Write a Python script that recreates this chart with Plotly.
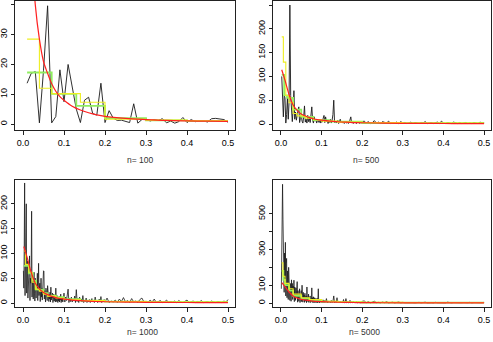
import numpy as np
import plotly.graph_objects as go

# periodogram ordinates (black lines)
pgram_100 = [13.7, 17, 17.6, 0.4, 18, 39.7, 0.4, 2.5, 18.2, 7.5,
             20, 12.5, 5, 0.5, 8, 9, 3.5, 3, 13.7, 0.5,
             4.5, 2, 1.2, 1.3, 1, 0.5, 6.8, 0.3, 1.5, 1.8,
             1, 1.5, 1.2, 1.8, 0.4, 1, 0.3, 0.8, 2.2, 0.5,
             1.5, 0.8, 1, 1, 0.7, 1.8, 1.9, 1.8, 1.5, 0.6]

# n=500: step 0.002 up to 0.2, then step 0.005 up to 0.5
pgram_500_low = [100, 40, 15, 60, 55, 2, 20, 55, 10, 45,
                 250, 60, 20, 5, 30, 70, 10, 25, 8, 15,
                 28, 36, 3, 12, 20, 6, 2, 15, 38, 4,
                 10, 2, 18, 5, 12, 3, 20, 36, 8, 2,
                 15, 6, 10, 2, 8, 5, 3, 10, 2, 6,
                 4, 12, 18, 3, 15, 5, 8, 1, 6, 3,
                 10, 2, 8, 20, 50, 3, 6, 2, 5, 8,
                 1, 4, 10, 3, 6, 2, 4, 1, 5, 3,
                 2, 6, 1, 3, 8, 15, 2, 4, 1, 3,
                 5, 2, 1, 4, 2, 6, 1, 3, 2, 5]
pgram_500_tail = [6, 2, 5, 1, 3, 7, 2, 4, 1, 5, 3, 2, 6, 1, 3, 2, 4, 1, 5, 2,
                  3, 1, 2, 4, 1, 3, 2, 1, 3, 2, 5, 1, 2, 3, 1, 2, 4, 1, 6, 2,
                  1, 3, 2, 1, 4, 2, 1, 3, 1, 2, 3, 1, 2, 1, 3, 2, 1, 4, 2, 3]

# n=1000 / n=5000: step 0.001 up to 0.1, step 0.002 up to 0.2, step 0.005 up to 0.5
pgram_1000_low = [65, 30, 110, 242, 15, 60, 90, 200, 20, 45,
                  85, 10, 60, 30, 75, 95, 5, 50, 40, 70,
                  185, 12, 55, 35, 8, 48, 62, 20, 4, 50,
                  30, 10, 45, 25, 60, 5, 35, 80, 15, 28,
                  40, 3, 22, 50, 12, 30, 6, 38, 18, 65,
                  64, 8, 25, 15, 2, 30, 10, 20, 5, 35,
                  12, 25, 3, 18, 8, 22, 2, 32, 6, 15,
                  10, 20, 1, 12, 18, 4, 9, 14, 2, 30,
                  8, 3, 15, 6, 1, 12, 4, 10, 2, 14,
                  6, 18, 1, 9, 4, 12, 2, 8, 5, 20]
pgram_1000_mid = [2, 12, 5, 15, 28, 1, 10, 3, 12, 2,
                  8, 4, 14, 1, 27, 3, 9, 1, 12, 4,
                  8, 2, 15, 1, 6, 3, 10, 1, 5, 2,
                  7, 1, 4, 9, 2, 5, 1, 12, 3, 6,
                  1, 4, 8, 2, 13, 1, 5, 3, 7, 2]
pgram_1000_tail = [10, 1, 4, 2, 6, 1, 8, 3, 11, 2, 5, 1, 9, 2, 4, 1, 7, 10, 2, 3,
                   1, 6, 2, 8, 1, 3, 5, 1, 2, 6, 1, 3, 2, 4, 1, 5, 2, 1, 3, 6,
                   1, 2, 4, 1, 3, 2, 5, 1, 2, 3, 1, 4, 2, 1, 3, 2, 1, 4, 2, 7]

pgram_5000_low = [80, 310, 150, 665, 470, 120, 400, 60, 280, 110,
                  340, 40, 220, 250, 30, 180, 90, 20, 200, 70,
                  150, 15, 110, 90, 10, 130, 60, 110, 20, 95,
                  40, 128, 8, 90, 60, 15, 85, 30, 70, 120,
                  5, 70, 45, 10, 60, 80, 3, 50, 25, 70,
                  8, 100, 30, 5, 60, 20, 45, 4, 55, 25,
                  10, 40, 2, 90, 15, 35, 6, 50, 3, 30,
                  20, 40, 3, 25, 10, 85, 5, 30, 2, 35,
                  15, 2, 30, 6, 25, 2, 20, 4, 28, 2,
                  18, 80, 4, 20, 1, 15, 6, 22, 3, 18]
pgram_5000_mid = [3, 18, 1, 15, 4, 25, 1, 12, 3, 10,
                  1, 15, 2, 9, 40, 1, 8, 3, 30, 1,
                  7, 2, 10, 1, 6, 2, 20, 1, 5, 25,
                  2, 6, 1, 4, 15, 1, 5, 2, 10, 1,
                  4, 2, 8, 1, 3, 6, 1, 4, 2, 10]
pgram_5000_tail = [12, 2, 8, 1, 5, 10, 2, 4, 1, 6, 2, 8, 1, 3, 5, 1, 2, 6, 1, 4,
                   2, 3, 1, 5, 2, 1, 3, 4, 1, 2, 5, 1, 3, 2, 1, 4, 2, 1, 3, 2,
                   1, 5, 2, 1, 3, 2, 4, 1, 2, 3, 1, 2, 4, 1, 3, 2, 1, 3, 2, 4]

# true spectrum (red)
red_freq = [0.002, 0.01, 0.02, 0.03, 0.04, 0.05, 0.06, 0.07, 0.08, 0.09, 0.1,
            0.12, 0.14, 0.16, 0.18, 0.2, 0.25, 0.3, 0.35, 0.4, 0.45, 0.5]
red_spec = [114, 92, 62, 40, 28.5, 21, 17, 13.5, 11, 9.2, 8,
            6, 4.7, 3.8, 3.1, 2.6, 1.9, 1.5, 1.2, 1.05, 0.95, 0.9]

# smoothed estimates (step functions): yellow and green
yel_x = {100: [0.01, 0.04, 0.07, 0.14, 0.2, 0.3, 0.4, 0.5],
         500: [0.002, 0.006, 0.012, 0.02, 0.03, 0.04, 0.06, 0.08, 0.1, 0.14, 0.2, 0.3, 0.5],
         1000: [0.002, 0.006, 0.014, 0.022, 0.03, 0.04, 0.05, 0.06, 0.08, 0.1, 0.14, 0.2, 0.3, 0.5],
         5000: [0.002, 0.005, 0.01, 0.02, 0.03, 0.05, 0.07, 0.1, 0.14, 0.2, 0.3, 0.5]}
yel_y = {100: [28.5, 12, 10.2, 7.3, 1.6, 1.3, 1.1, 1.1],
         500: [183, 130, 60, 45, 22, 17, 12, 9, 6, 4, 3, 2, 2],
         1000: [105, 78, 62, 42, 28, 24, 18, 14, 10, 7, 5, 3, 2, 2],
         5000: [225, 150, 110, 80, 50, 30, 20, 10, 6, 4, 3, 3]}
grn_x = {100: [0.01, 0.07, 0.13, 0.2, 0.3, 0.4, 0.5],
         500: [0.002, 0.008, 0.015, 0.03, 0.05, 0.08, 0.12, 0.2, 0.5],
         1000: [0.002, 0.014, 0.024, 0.032, 0.05, 0.06, 0.08, 0.1, 0.14, 0.2, 0.3, 0.5],
         5000: [0.002, 0.006, 0.01, 0.02, 0.03, 0.05, 0.07, 0.1, 0.14, 0.2, 0.5]}
grn_y = {100: [17.3, 10.1, 6.1, 2.0, 1.2, 1.0, 1.0],
         500: [103, 60, 55, 30, 15, 8, 5, 2, 2],
         1000: [75, 60, 45, 27, 20, 15, 12, 8, 5, 3, 2, 2],
         5000: [180, 130, 100, 70, 40, 25, 15, 8, 5, 3, 3]}

sizes = [100, 500, 1000, 5000]
y_ranges = {100: [-2.0, 41.3], 500: [-12.6, 258.4], 1000: [-8, 248], 5000: [-22, 689]}
y_ticks = {100: [0, 10, 20, 30, 40], 500: [0, 50, 100, 150, 200, 250],
           1000: [0, 50, 100, 150, 200, 250], 5000: [0, 100, 200, 300, 400, 500]}
y_ticktext = {5000: ["0", "100", "", "300", "", "500"]}

W, H = 493, 342
# plot boxes in pixels: left, right, top, bottom, label y
boxes = {100: (15, 235, 1, 130, 160), 500: (273, 491, 1, 130, 160),
         1000: (15, 235, 180, 307, 332), 5000: (273, 491, 180, 307, 332)}


def segments(parts):
    """parts: list of (start, step, values) -> concatenated frequencies and values"""
    fs, vs = [], []
    for start, step, vals in parts:
        fs.append(start + np.arange(len(vals)) * step)
        vs += list(vals)
    return np.concatenate(fs), vs


def pgram(n):
    if n == 100:
        return segments([(0.01, 0.01, pgram_100)])
    if n == 500:
        return segments([(0.002, 0.002, pgram_500_low), (0.205, 0.005, pgram_500_tail)])
    low = {1000: pgram_1000_low, 5000: pgram_5000_low}[n]
    mid = {1000: pgram_1000_mid, 5000: pgram_5000_mid}[n]
    tail = {1000: pgram_1000_tail, 5000: pgram_5000_tail}[n]
    return segments([(0.001, 0.001, low), (0.102, 0.002, mid), (0.205, 0.005, tail)])


fig = go.Figure()
font = dict(family="Liberation Sans, Arial, sans-serif", size=9, color="#000")

for i, n in enumerate(sizes):
    ax = "" if i == 0 else str(i + 1)
    xa, ya = "x" + ax, "y" + ax
    f, p = pgram(n)
    fig.add_trace(go.Scatter(x=f, y=p, mode="lines", xaxis=xa, yaxis=ya,
                             line=dict(color="#1a1a1a", width=0.9 if n < 1000 else 0.8)))
    fig.add_trace(go.Scatter(x=grn_x[n], y=grn_y[n], mode="lines", xaxis=xa, yaxis=ya,
                             line=dict(color="#90ee60", width=1.8, shape="hv")))
    fig.add_trace(go.Scatter(x=yel_x[n], y=yel_y[n], mode="lines", xaxis=xa, yaxis=ya,
                             line=dict(color="#eeee22", width=1.1, shape="hv")))
    rf = [a for a in red_freq if a >= f[0] - 1e-9]
    rs = red_spec[len(red_freq) - len(rf):]
    fig.add_trace(go.Scatter(x=rf, y=rs, mode="lines", xaxis=xa, yaxis=ya,
                             line=dict(color="#ff2020", width=1.2, shape="spline")))

    l, r, t, b, lab = boxes[n]
    common = dict(showline=True, mirror=True, linecolor="#222", linewidth=1,
                  ticks="outside", ticklen=4, tickcolor="#222", showgrid=False,
                  zeroline=False, tickfont=font, automargin=False)
    fig.layout["xaxis" + ax] = dict(common, domain=[l / W, r / W], range=[-0.0195, 0.517],
                                    tickvals=[0, 0.1, 0.2, 0.3, 0.4, 0.5],
                                    ticktext=["0.0", "0.1", "0.2", "0.3", "0.4", "0.5"],
                                    anchor=ya)
    fig.layout["yaxis" + ax] = dict(common, domain=[1 - b / H, 1 - t / H], range=y_ranges[n],
                                    tickvals=y_ticks[n], ticklen=3,
                                    ticktext=y_ticktext.get(n, [str(v) for v in y_ticks[n]]),
                                    tickangle=-90, anchor=xa)
    fig.add_annotation(text="n= %d" % n, xref="paper", yref="paper",
                       x=(l + r) / 2 / W, y=1 - lab / H, yanchor="middle", showarrow=False,
                       font=dict(family="Liberation Sans, Arial, sans-serif", size=8.5, color="#333"))

fig.update_layout(width=W, height=H, margin=dict(l=0, r=0, t=0, b=0, autoexpand=False),
                  paper_bgcolor="white", plot_bgcolor="white", showlegend=False)
# drop the browser's default page margin so the figure sits at the window corner
fig.write_html("out.html", config={"displayModeBar": False},
               post_script="document.body.style.margin='0';")
